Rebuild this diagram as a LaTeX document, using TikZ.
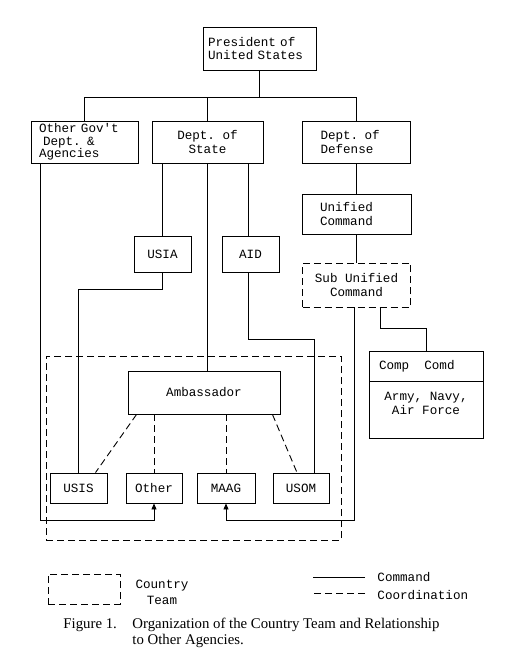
\documentclass[tikz,border=0pt]{standalone}
\usepackage{fontspec}
\setmainfont{Liberation Serif}
\setmonofont{Liberation Mono}[WordSpace={1,0,0}]
\usepackage{tikz}
\usetikzlibrary{arrows.meta,calc}

\begin{document}
\begin{tikzpicture}[
  x=1pt, y=-1pt,
  line width=0.9pt,
  >={Triangle[length=6pt,width=5pt]},
  box/.style={rectangle, draw, inner xsep=0pt, inner ysep=2pt, align=center,
              font=\fontsize{12.6}{13.5}\selectfont\ttfamily},
  boxl/.style={box, align=left},
  dbox/.style={box, dash pattern=on 7pt off 4pt},
  cmd/.style={draw},
  crd/.style={draw, dash pattern=on 7pt off 4pt},
  lbl/.style={font=\fontsize{12.6}{16}\selectfont\ttfamily, inner sep=0pt},
  figcap/.style={font=\fontsize{14.8}{17}\selectfont, inner sep=0pt, align=left},
]
\useasboundingbox (0,0) rectangle (511,659);

% top of the chart
\node[boxl, minimum width=113pt, minimum height=43pt, text width=103pt, inner xsep=5pt]
  (pres) at (259.5,48.5) {President of\\United States};
\node[boxl, minimum width=107pt, minimum height=42pt, text width=91pt, inner xsep=8pt,
      font=\fontsize{12.6}{12.5}\selectfont\ttfamily]
  (ogov) at (84.5,142) {Other Gov't\\\hspace*{4pt}Dept. \&\\Agencies};
\node[box, minimum width=111pt, minimum height=42pt] (state) at (207.5,142) {Dept. of\\State};
\node[boxl, minimum width=108pt, minimum height=42pt, text width=72pt, inner xsep=18pt]
  (dod) at (356.5,142) {Dept. of\\Defense};
\node[boxl, minimum width=109pt, minimum height=40pt, text width=73pt, inner xsep=18pt]
  (unif) at (356.5,214) {Unified\\Command};
\node[box, minimum width=57pt, minimum height=36pt] (usia) at (162.5,254) {USIA};
\node[box, minimum width=57pt, minimum height=36pt] (aid) at (250.5,254) {AID};
\node[dbox, minimum width=108pt, minimum height=44pt] (sub) at (356.5,285) {Sub Unified\\Command};
\node[boxl, minimum width=114pt, minimum height=30pt, text width=94pt, inner xsep=10pt]
  (comptop) at (426,366) {Comp\hspace{1.2em}Comd};
\node[box, minimum width=114pt, minimum height=57pt, text depth=12pt] (compbody) at (426,409.5) {Army, Navy,\\Air Force};

% country team
\node[box, dash pattern=on 7pt off 4pt, minimum width=295pt, minimum height=184pt] (team) at (193.5,448) {};
\node[box, minimum width=152pt, minimum height=43pt] (amb) at (204,392.5) {Ambassador};
\node[box, minimum width=57pt, minimum height=30pt] (usis) at (78.5,488) {USIS};
\node[box, minimum width=56pt, minimum height=30pt] (other) at (154,488) {Other};
\node[box, minimum width=58pt, minimum height=30pt] (maag) at (226,488) {MAAG};
\node[box, minimum width=56pt, minimum height=30pt] (usom) at (301,488) {USOM};

% command lines
\draw[cmd] (pres.south) -- ++(0,27) coordinate (bus);
\draw[cmd] (ogov.north) |- (bus) -| (dod.north);
\draw[cmd] (state.north) -- (state.north |- bus);
\draw[cmd] (dod.south) -- (unif.north);
\draw[cmd] (unif.south) -- (sub.north);
\draw[cmd] (state.south -| usia.north) -- (usia.north);
\draw[cmd] ([xshift=-2pt]state.south -| aid.north) -- ([xshift=-2pt]aid.north);
\draw[cmd] (state.south) -- (state.south |- amb.north);
\draw[cmd] (usia.south) -- ++(0,17) -| (usis.north);
\draw[cmd] ([xshift=-2pt]aid.south) -- ++(0,67) -| ([xshift=13pt]usom.north);
\draw[cmd] ([xshift=24pt]sub.south) -- ++(0,21) -| (comptop.north);
\coordinate (loop) at (0,520);
\draw[cmd,->] ([xshift=10pt]ogov.south west) |- (loop -| other.south) -- (other.south);
\draw[cmd,->] ([xshift=-2pt]sub.south) |- (loop -| maag.south) -- (maag.south);

% coordination lines
\draw[crd] ([xshift=9pt]amb.south west) -- ([xshift=17pt]usis.north);
\draw[crd] (amb.south -| other.north) -- (other.north);
\draw[crd] (amb.south -| maag.north) -- (maag.north);
\draw[crd] ([xshift=-8pt]amb.south east) -- ([xshift=-4pt]usom.north);

% legend
\node[box, dash pattern=on 7pt off 4pt, minimum width=72pt, minimum height=30pt] (legteam) at (84,589) {};
\node[lbl, align=center] (legtxt) at (162,592) {Country\\Team};
\node[lbl, anchor=west] (cmdlbl) at (377,577) {Command};
\node[lbl, anchor=west] (crdlbl) at (377,595) {Coordination};
\draw[cmd] ([xshift=-12pt]cmdlbl.west) -- ++(-52,0);
\draw[crd] ([xshift=-12pt,yshift=2pt]crdlbl.west) -- ++(-52,0);

% caption
\node[figcap, anchor=base west] (figno) at (63,628) {Figure 1.};
\node[figcap, anchor=base west] (captxt) at (132,628) {Organization of the Country Team and Relationship};
\node[figcap, anchor=base west] (captxt2) at (132,644) {to Other Agencies.};
\end{tikzpicture}
\end{document}
